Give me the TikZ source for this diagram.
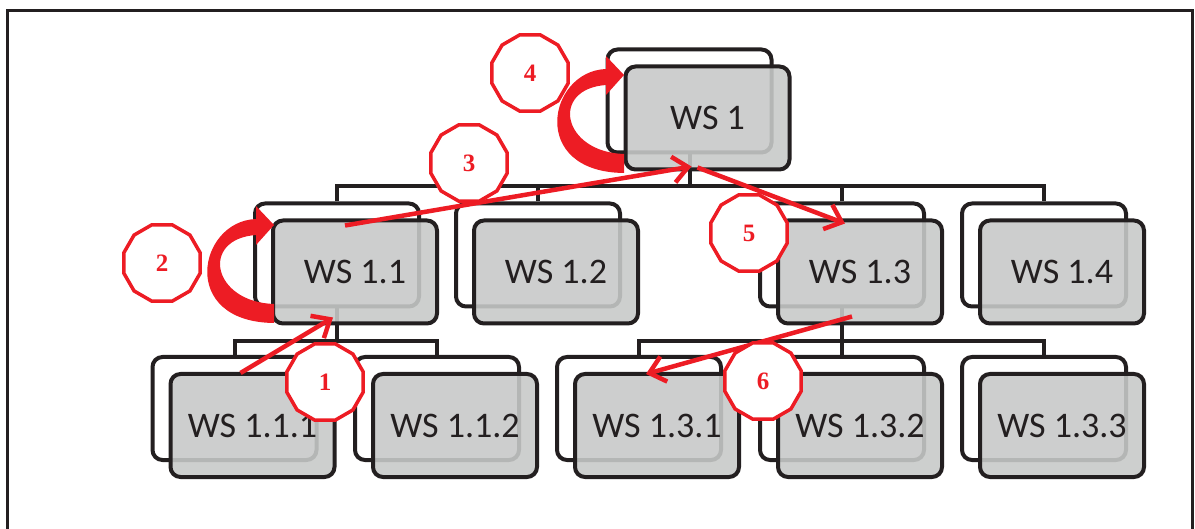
\documentclass[tikz,border=0pt]{standalone}
\usepackage{fontspec}
\setmainfont{Carlito}
\newfontfamily\numfont{Liberation Serif}
\usetikzlibrary{arrows.meta,shapes.geometric}
\definecolor{wsred}{HTML}{ED1C24}
\definecolor{wsink}{HTML}{231F20}
\definecolor{wsgray}{HTML}{C7C9C8}
\begin{document}
\begin{tikzpicture}[x=1pt, y=-1pt,
  back/.style={draw=wsink, line width=4pt, rounded corners=10pt, fill=white,
    minimum width=164pt, minimum height=103pt, inner sep=0pt},
  ws/.style={back, fill=wsgray, fill opacity=0.89, text opacity=1, text=wsink,
    font=\fontsize{36}{36}\selectfont},
  tree/.style={draw=wsink, line width=4pt},
  hop/.style={draw=wsred, line width=4.5pt, -{Straight Barb[length=15pt, width=26pt]}},
  badge/.style={regular polygon, regular polygon sides=12, minimum size=79pt,
    draw=wsred, line width=3.5pt, fill=white, text=wsred, inner sep=0pt,
    font=\numfont\bfseries\fontsize{25}{25}\selectfont}]
  \useasboundingbox (0,0) rectangle (1195,529);
  \draw[wsink, line width=3pt] (7,529) -- (7,11) -- (1192,11) -- (1192,529);

  % back sheets
  \node[back] (bk1) at (689.5,101) {};
  \node[back] (bk11) at (337,255) {};
  \node[back] (bk12) at (538,255) {};
  \node[back] (bk13) at (842,255) {};
  \node[back] (bk14) at (1044,255) {};
  \node[back] (bk111) at (234.5,408.5) {};
  \node[back] (bk112) at (437,408.5) {};
  \node[back] (bk131) at (639,408.5) {};
  \node[back] (bk132) at (842,408.5) {};
  \node[back] (bk133) at (1044,408.5) {};

  % tree lines
  \coordinate (bus1) at (689.5,186);
  \coordinate (bus11) at (337,341);
  \coordinate (bus13) at (842,341);
  \draw[tree] (bk1.south) -- (bus1);
  \draw[tree] (bk11.north) |- (bus1) -| (bk14.north);
  \draw[tree] (bk12.north) -- (bk12.north |- bus1);
  \draw[tree] (bk13.north) -- (bk13.north |- bus1);
  \draw[tree] (bk11.south) -- (bus11);
  \draw[tree] (bk111.north) |- (bus11) -| (bk112.north);
  \draw[tree] (bk13.south) -- (bus13);
  \draw[tree] (bk131.north) |- (bus13) -| (bk133.north);
  \draw[tree] (bk132.north) -- (bus13);

  % front sheets
  \node[ws] (ws1) at (707.5,118) {WS 1};
  \node[ws] (ws11) at (355,272) {WS 1.1};
  \node[ws] (ws12) at (556,272) {WS 1.2};
  \node[ws] (ws13) at (860,272) {WS 1.3};
  \node[ws] (ws14) at (1062,272) {WS 1.4};
  \node[ws] (ws111) at (252.5,425.5) {WS 1.1.1};
  \node[ws] (ws112) at (455,425.5) {WS 1.1.2};
  \node[ws] (ws131) at (657,425.5) {WS 1.3.1};
  \node[ws] (ws132) at (860,425.5) {WS 1.3.2};
  \node[ws] (ws133) at (1062,425.5) {WS 1.3.3};

  % red path
  \draw[hop] ([shift={(-12,1)}]ws111.north) -- ([shift={(-22,-8)}]ws11.south);
  \draw[hop] ([shift={(-10,7)}]ws11.north) -- ([shift={(-16,-5)}]ws1.south);
  \draw[hop] ([shift={(-10,-4)}]ws1.south) -- ([shift={(-15,5)}]ws13.north);
  \draw[hop] ([shift={(-8,-9)}]ws13.south) -- ([shift={(-11,2)}]ws131.north);
  \fill[wsred] (606,69) .. controls (548,71) and (528,172) .. (624,173) -- (624,154)
    .. controls (562,152) and (550,89) .. (606,85) -- (606,95) -- (624,75) -- (606,56) -- cycle;
  \fill[wsred, shift={(-350,150)}] (606,69) .. controls (548,71) and (528,172) .. (624,173) -- (624,154)
    .. controls (562,152) and (550,89) .. (606,85) -- (606,95) -- (624,75) -- (606,56) -- cycle;

  \node[badge] (n1) at (325,382) {1};
  \node[badge] (n2) at (162,263) {2};
  \node[badge] (n3) at (469,163) {3};
  \node[badge] (n4) at (530,73) {4};
  \node[badge] (n5) at (749,233) {5};
  \node[badge] (n6) at (763,381) {6};
\end{tikzpicture}
\end{document}
